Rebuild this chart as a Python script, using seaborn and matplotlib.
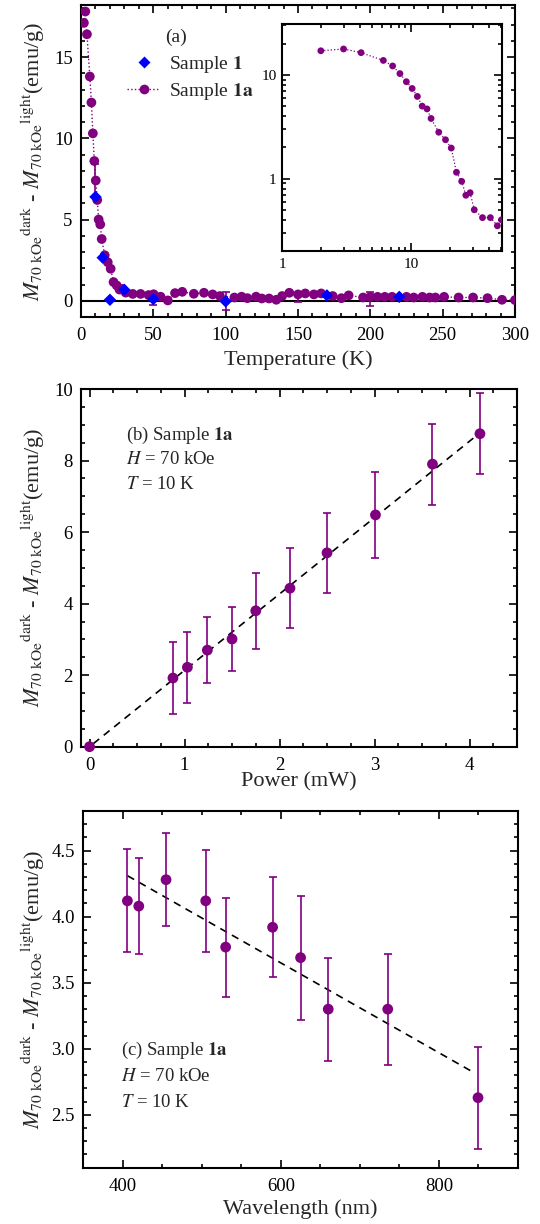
import numpy as np
import pandas as pd
import matplotlib
matplotlib.use("Agg")
import matplotlib.pyplot as plt
import seaborn as sns
from matplotlib.ticker import MultipleLocator, LogLocator, NullFormatter, FuncFormatter
from matplotlib.lines import Line2D

# ---------------- data ----------------
# (a) Sample 1a: M(dark)-M(light) vs temperature
temp_1a = [2.0, 3.0, 4.1, 6.1, 7.2, 8.2, 9.2, 10.2, 11.2, 12.2, 13.3, 14.3, 16.4, 18.5,
           20.5, 22.5, 24.7, 26.6, 28.7, 30.9, 35.8, 41.2, 46.7, 50.2, 55, 60, 65, 70,
           78, 85, 91, 96, 106, 111, 115, 121, 125, 130, 135, 139, 144, 150, 155, 161,
           166, 174, 180, 185, 195, 200, 205, 210, 215, 225, 230, 236, 241, 245, 251,
           261, 271, 281, 291, 300]
m_1a = [17.1, 17.8, 16.4, 13.8, 12.2, 10.3, 8.6, 7.4, 6.2, 5.0, 4.7, 3.8, 2.8, 2.37,
        1.97, 1.15, 0.94, 0.69, 0.73, 0.50, 0.42, 0.42, 0.35, 0.40, 0.25, 0.02, 0.47, 0.55,
        0.43, 0.49, 0.39, 0.29, 0.20, 0.25, 0.16, 0.25, 0.14, 0.14, 0.06, 0.29, 0.49, 0.39,
        0.45, 0.39, 0.45, 0.29, 0.16, 0.33, 0.20, 0.24, 0.24, 0.24, 0.24, 0.24, 0.20, 0.24,
        0.20, 0.20, 0.24, 0.20, 0.20, 0.16, 0.06, 0.04]
# (a) Sample 1
temp_1 = [10, 15, 20, 30, 50, 100, 170, 220]
m_1 = [6.39, 2.65, 0.06, 0.67, 0.10, -0.04, 0.33, 0.24]
# (a) error bars
err_temp = [10, 50, 100, 150, 200]
err_m = [7.4, 0.10, -0.04, 0.20, 0.10]
err_val = [1.0, 0.37, 0.55, 0.30, 0.43]
# inset: low-temperature part of Sample 1a (log-log)
inset_n = 24

# (b) power dependence
power = [0.0, 0.878, 1.03, 1.24, 1.50, 1.75, 2.11, 2.50, 3.01, 3.61, 4.11]
m_power = [0.0, 1.92, 2.22, 2.70, 3.01, 3.80, 4.43, 5.42, 6.48, 7.90, 8.75]
err_power = [0.0, 1.0, 1.0, 0.92, 0.89, 1.07, 1.12, 1.12, 1.21, 1.13, 1.13]
fit_b_x = [0.04, 4.08]
fit_b_slope = 2.135

# (c) wavelength dependence
wavelength = [405.8, 420.2, 454.7, 504.9, 530.1, 589.5, 624.9, 659.9, 735.2, 849.4]
m_wl = [4.12, 4.08, 4.28, 4.12, 3.77, 3.92, 3.69, 3.30, 3.30, 2.63]
err_wl = [0.39, 0.365, 0.35, 0.385, 0.375, 0.38, 0.47, 0.39, 0.42, 0.385]
fit_c_x = [406, 842]
fit_c_slope = -0.0034
fit_c_intercept = 5.69

# ---------------- style ----------------
sns.set_theme(style="ticks")
plt.rcParams["font.family"] = ["Liberation Serif", "DejaVu Serif"]
plt.rcParams["mathtext.fontset"] = "stix"
plt.rcParams["axes.linewidth"] = 1.5

PURPLE = "#800080"
BLUE = "#0000FF"
W, H = 540, 1224

fig = plt.figure(figsize=(W / 100, H / 100), dpi=100)


def add_axes(l, r, t, b):
    return fig.add_axes([l / W, 1 - b / H, (r - l) / W, (b - t) / H])


def style_ax(ax, size=13.5, xpad=7.5, ypad=6.0):
    ax.tick_params(which="both", direction="in", top=True, right=True,
                   width=1.2, labelsize=size, colors="black")
    ax.tick_params(which="major", length=5.5)
    ax.tick_params(which="minor", length=3)
    ax.tick_params(axis="x", which="both", pad=xpad)
    ax.tick_params(axis="y", which="both", pad=ypad)
    for s in ax.spines.values():
        s.set_linewidth(1.5)
        s.set_color("black")
        s.set_visible(True)


ylab = (r"$M_{70\ \mathrm{kOe}}{}^{\mathrm{dark}}$ - "
        r"$M_{70\ \mathrm{kOe}}{}^{\mathrm{light}}$(emu/g)")

def set_ylabel(ax, l, r):
    ax.set_ylabel(ylab, fontsize=16)
    ax.yaxis.set_label_coords((47 - l) / (r - l), 0.5)

# ---------------- panel (a) ----------------
axa = add_axes(81, 515, 5, 317)
style_ax(axa)
axa.axhline(0, color="black", lw=1.5, zorder=1)
axa.errorbar(err_temp, err_m, yerr=err_val, fmt="none", ecolor=PURPLE,
             elinewidth=1.2, capsize=2.7, capthick=1.2, zorder=2)
sns.lineplot(x=temp_1a, y=m_1a, ax=axa, color=PURPLE, lw=1.0, linestyle=":",
             sort=False, estimator=None, zorder=2)
sns.scatterplot(x=temp_1a, y=m_1a, ax=axa, color=PURPLE, s=49, edgecolor="none",
                marker="o", zorder=3)
sns.scatterplot(x=temp_1, y=m_1, ax=axa, color=BLUE, s=40, edgecolor="none",
                marker="D", zorder=4)
axa.set_xlim(0, 300)
axa.set_ylim(-1, 18.2)
axa.xaxis.set_major_locator(MultipleLocator(50))
axa.xaxis.set_minor_locator(MultipleLocator(10))
axa.yaxis.set_major_locator(MultipleLocator(5))
axa.yaxis.set_minor_locator(MultipleLocator(1))
axa.set_xlabel("Temperature (K)", fontsize=16, labelpad=4)
set_ylabel(axa, 81, 515)

axa.text(0.194, 0.897, "(a)", transform=axa.transAxes, fontsize=14, va="center", ha="left")
handles = [Line2D([], [], marker="D", color=BLUE, ls="none", ms=6.2, mec="none"),
           Line2D([], [], marker="o", color=PURPLE, ls=":", lw=1.0, ms=7, mec="none")]
axa.legend(handles, [r"Sample $\mathbf{1}$", r"Sample $\mathbf{1a}$"],
           loc="upper left", bbox_to_anchor=(0.106, 0.842), frameon=False,
           fontsize=14, handlelength=1.7, handletextpad=0.45, labelspacing=0.3,
           borderpad=0, borderaxespad=0)

# inset
axi = add_axes(282, 502, 24, 251)
style_ax(axi, size=11, xpad=5, ypad=4)
sns.lineplot(x=temp_1a[:inset_n], y=m_1a[:inset_n], ax=axi, color=PURPLE, lw=0.9,
             linestyle=":", sort=False, estimator=None)
sns.scatterplot(x=temp_1a[:inset_n], y=m_1a[:inset_n], ax=axi, color=PURPLE, s=24,
                edgecolor="none", marker="o", zorder=3)
axi.set_xscale("log")
axi.set_yscale("log")
axi.set_xlim(1, 50.7)
axi.set_ylim(0.2, 31)
for axis in (axi.xaxis, axi.yaxis):
    axis.set_major_locator(LogLocator(base=10))
    axis.set_minor_locator(LogLocator(base=10, subs=np.arange(2, 10)))
    axis.set_major_formatter(FuncFormatter(lambda v, p: f"{v:g}"))
    axis.set_minor_formatter(NullFormatter())
axi.set_xlabel("")
axi.set_ylabel("")

# ---------------- panel (b) ----------------
axb = add_axes(81, 517, 389, 746.7)
style_ax(axb)
fb_x = np.array(fit_b_x)
sns.lineplot(x=fb_x, y=fit_b_slope * fb_x, ax=axb, color="black", lw=1.2,
             linestyle=(0, (4.5, 3.5)), zorder=2)
axb.errorbar(power[1:], m_power[1:], yerr=err_power[1:], fmt="none", ecolor=PURPLE,
             elinewidth=1.2, capsize=2.7, capthick=1.2, zorder=2)
sns.scatterplot(x=power, y=m_power, ax=axb, color=PURPLE, s=60, edgecolor="none",
                marker="o", zorder=3, clip_on=False)
axb.set_xlim(-0.09, 4.5)
axb.set_ylim(0, 10)
axb.xaxis.set_major_locator(MultipleLocator(1))
axb.xaxis.set_minor_locator(MultipleLocator(0.25))
axb.yaxis.set_major_locator(MultipleLocator(2))
axb.yaxis.set_minor_locator(MultipleLocator(0.5))
axb.set_xlabel("Power (mW)", fontsize=16, labelpad=-1)
set_ylabel(axb, 81, 517)
for i, t in enumerate([r"(b) Sample $\mathbf{1a}$", r"$H$ = 70 kOe", r"$T$ = 10 K"]):
    axb.text(0.1025, 0.871 - i * 0.069, t, transform=axb.transAxes, fontsize=13.5,
             va="center", ha="left")

# ---------------- panel (c) ----------------
axc = add_axes(83.3, 518, 811, 1167.7)
style_ax(axc)
fc_x = np.array(fit_c_x)
sns.lineplot(x=fc_x, y=fit_c_intercept + fit_c_slope * fc_x, ax=axc, color="black",
             lw=1.2, linestyle=(0, (4.5, 3.5)), zorder=2)
axc.errorbar(wavelength, m_wl, yerr=err_wl, fmt="none", ecolor=PURPLE,
             elinewidth=1.2, capsize=2.7, capthick=1.2, zorder=2)
sns.scatterplot(x=wavelength, y=m_wl, ax=axc, color=PURPLE, s=60, edgecolor="none",
                marker="o", zorder=3)
axc.set_xlim(350, 900)
axc.set_ylim(2.1, 4.8)
axc.xaxis.set_major_locator(MultipleLocator(200))
axc.xaxis.set_minor_locator(MultipleLocator(50))
axc.yaxis.set_major_locator(MultipleLocator(0.5))
axc.yaxis.set_minor_locator(MultipleLocator(0.1))
axc.yaxis.set_major_formatter(FuncFormatter(lambda v, p: f"{v:.1f}"))
axc.set_xlabel("Wavelength (nm)", fontsize=16, labelpad=3)
set_ylabel(axc, 83.3, 518)
for i, t in enumerate([r"(c) Sample $\mathbf{1a}$", r"$H$ = 70 kOe", r"$T$ = 10 K"]):
    axc.text(0.0867, 0.33 - i * 0.073, t, transform=axc.transAxes, fontsize=13.5,
             va="center", ha="left")

fig.savefig("out.png", dpi=100)
